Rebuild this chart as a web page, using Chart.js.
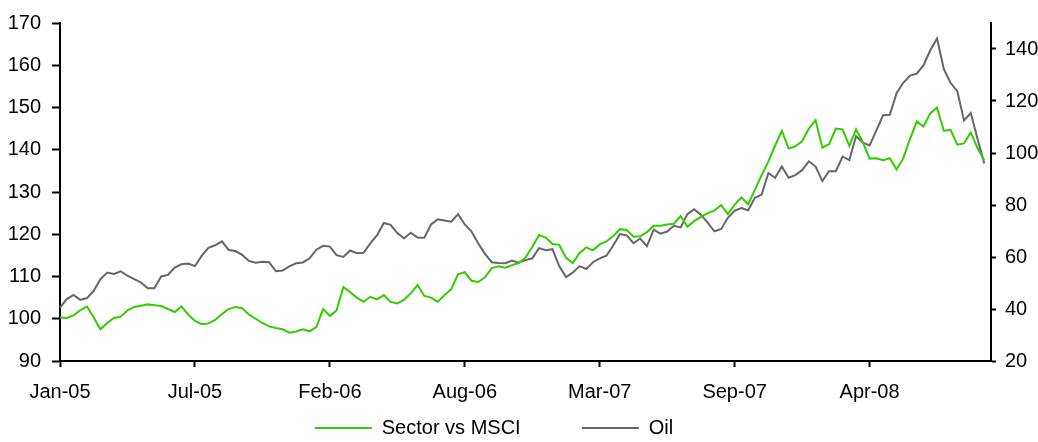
<!DOCTYPE html>
<html><head><meta charset="utf-8">
<script src="https://cdn.jsdelivr.net/npm/chart.js@4"></script>
<style>html,body{margin:0;padding:0;background:#fff}#wrap{width:1038px;height:442px}</style>
</head><body><div id="wrap"><canvas id="c" width="1038" height="442"></canvas></div>
<script>
const sector = [100.3,100.2,100.8,102,102.9,100.3,97.5,99,100.2,100.5,
102,102.8,103.1,103.4,103.2,103,102.3,101.6,102.9,101,
99.5,98.7,98.9,99.7,101.1,102.3,102.8,102.5,101,100,
99,98.2,97.8,97.5,96.7,97,97.5,97,98,102.3,
100.7,102,107.5,106.3,105,104,105.2,104.6,105.6,104,
103.6,104.5,106,108,105.4,105,104,105.6,107,110.5,
111,109,108.7,109.8,112,112.4,112.1,112.7,113.2,114.5,
117,119.8,119.2,117.7,117.5,114.4,113.2,115.5,116.9,116.2,
117.6,118.3,119.5,121.2,121,119.4,119.5,120.5,122,122,
122.3,122.5,124.3,121.8,123.1,124.1,125,125.6,126.9,124.8,
127,128.7,127.1,130.5,134,137.2,141,144.5,140.3,140.8,
142,145,147,140.5,141.3,145,144.8,140.9,144.8,141.8,
137.9,138,137.5,138,135.3,138,142.6,146.7,145.5,148.6,
150,144.5,144.7,141.2,141.5,144.1,140.4,137.5];
const oil = [40.5,43.8,45.4,43.5,44.2,47,51.5,54,53.5,54.5,
52.8,51.5,50.2,48,48,52.5,53.1,55.9,57.2,57.5,
56.5,60.4,63.5,64.5,66,62.7,62.3,60.8,58.5,57.8,
58.2,58,54.5,54.8,56.4,57.6,57.9,59.5,62.8,64.3,
64,60.7,60,62.5,61.5,61.6,65.2,68.4,73.1,72.4,
69.2,67.2,69.3,67.5,67.4,72.5,74.5,74,73.6,76.5,
72.5,69.8,65.2,61.2,58,57.7,57.6,58.6,57.8,58.8,
59.5,63.4,62.6,63,56.5,52.3,54,56.5,55.4,58,
59.5,60.5,64.4,68.8,68.3,65.3,67.1,64.2,70.5,69,
69.8,72,71.4,76.5,78.4,76.3,73.2,69.9,70.8,75.1,
77.8,78.8,78,82.8,84,92.3,90.5,94.8,90.5,91.5,
93.4,96.8,94.8,89.2,93,93,98.6,97.3,106.5,104,
102.9,108.6,114.5,114.7,123,127,129.8,130.5,133.8,139.5,
144,132.3,127,123.8,112.5,115.4,105.5,96];
const tickLabels = ['Jan-05','Jul-05','Feb-06','Aug-06','Mar-07','Sep-07','Apr-08'];
const seriesNames = ['Sector vs MSCI', 'Oil'];
const tickEvery = 20;
const categories = Array.from({length: 139}, (_, i) => i);
const legendGaps = [11, 9];

const FONT = {family: "'Liberation Sans', Arial, sans-serif", size: 20};
new Chart(document.getElementById('c'), {
  type: 'line',
  data: {
    labels: categories,
    datasets: [
      {label: seriesNames[0], data: sector, yAxisID: 'y', borderColor: '#33cc00', backgroundColor: '#33cc00', borderWidth: 2, pointRadius: 0, tension: 0},
      {label: seriesNames[1], data: oil, yAxisID: 'y2', borderColor: '#666666', backgroundColor: '#666666', borderWidth: 2, pointRadius: 0, tension: 0}
    ]
  },
  options: {
    responsive: false,
    animation: false,
    layout: {padding: {top: 17, bottom: -6, left: 0, right: 0}},
    plugins: {
      legend: {
        position: 'bottom',
        labels: {
          font: FONT, color: '#000', boxWidth: 57, boxHeight: 0, padding: 0,
          generateLabels(chart) {
            const items = Chart.defaults.plugins.legend.labels.generateLabels(chart);
            return items.map((it, i) => Object.assign(it, {text: it.text + ' '.repeat(legendGaps[i])}));
          }
        }
      },
      tooltip: {enabled: false}
    },
    scales: {
      x: {
        type: 'category', offset: false,
        grid: {drawOnChartArea: false, tickLength: 6, tickWidth: 2, tickColor: '#000'},
        border: {color: '#000', width: 2},
        ticks: {autoSkip: false, maxRotation: 0, padding: 13, color: '#000', font: FONT,
          callback: (v) => tickLabels[v / tickEvery]},
        afterBuildTicks: (s) => { s.ticks = s.ticks.filter(t => t.value % tickEvery === 0 && t.value / tickEvery < tickLabels.length); },
        afterFit: (s) => { s.height = 57; }
      },
      y: {
        position: 'left', min: 90, max: 170,
        ticks: {stepSize: 10, padding: 11, color: '#000', font: FONT},
        grid: {drawOnChartArea: false, tickLength: 8, tickWidth: 2, tickColor: '#000'},
        border: {color: '#000', width: 2},
        afterFit: (s) => { s.width = 60; }
      },
      y2: {
        position: 'right', min: 20, max: 150,
        ticks: {stepSize: 20, padding: 9, color: '#000', font: FONT},
        grid: {drawOnChartArea: false, tickLength: 5, tickWidth: 2, tickColor: '#000'},
        border: {color: '#000', width: 2},
        afterBuildTicks: (s) => { s.ticks = s.ticks.filter(t => t.value !== 150); },
        afterFit: (s) => { s.width = 47; }
      }
    }
  }
});
</script>
</body></html>
